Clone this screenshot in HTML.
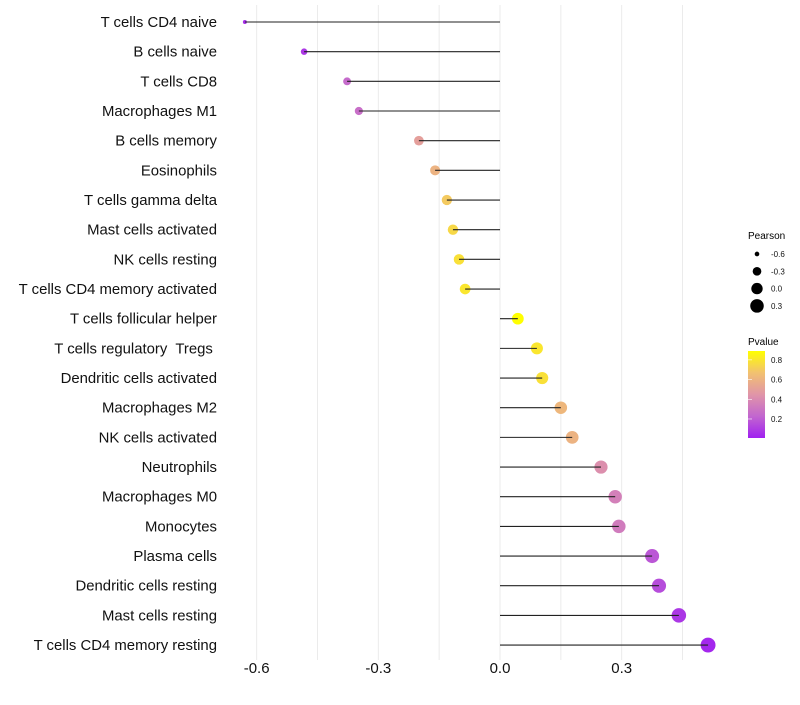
<!DOCTYPE html>
<html><head><meta charset="utf-8"><style>
body{margin:0;background:#fff;font-family:"Liberation Sans",sans-serif;}
svg text{font-family:"Liberation Sans",sans-serif;white-space:pre;}
</style></head><body>
<svg id="chart" width="800" height="700" xmlns="http://www.w3.org/2000/svg">
<defs><linearGradient id="pg" x1="0" y1="1" x2="0" y2="0">
<stop offset="0" stop-color="#a020f0"/><stop offset="0.25" stop-color="#c266cf"/><stop offset="0.5" stop-color="#e095a8"/><stop offset="0.75" stop-color="#f2c170"/><stop offset="1" stop-color="#ffff00"/>
</linearGradient></defs>
<g id="grid"></g>
<g id="points"></g>
<g id="marks"></g>
<g id="legend">
<text x="748" y="239" font-size="10">Pearson</text>
<text x="748" y="345" font-size="10">Pvalue</text>
<rect x="748" y="351" width="17" height="87" fill="url(#pg)"/>
</g>
</svg>
<script>
const categories=["T cells CD4 naive","B cells naive","T cells CD8","Macrophages M1","B cells memory","Eosinophils","T cells gamma delta","Mast cells activated","NK cells resting","T cells CD4 memory activated","T cells follicular helper","T cells regulatory  Tregs ","Dendritic cells activated","Macrophages M2","NK cells activated","Neutrophils","Macrophages M0","Monocytes","Plasma cells","Dendritic cells resting","Mast cells resting","T cells CD4 memory resting"];
const pearson=[-0.629,-0.483,-0.377,-0.348,-0.2,-0.16,-0.131,-0.116,-0.101,-0.086,0.044,0.091,0.104,0.15,0.178,0.249,0.284,0.293,0.375,0.392,0.441,0.513];
const pvalue=[0.05,0.08,0.25,0.27,0.5,0.6,0.7,0.75,0.78,0.8,0.89,0.8,0.78,0.62,0.6,0.42,0.35,0.33,0.18,0.15,0.08,0.03];
const xTicks=[-0.6,-0.3,0.0,0.3];
const xTickLabels=["-0.6","-0.3","0.0","0.3"];
const gridVals=[-0.6,-0.45,-0.3,-0.15,0,0.15,0.3,0.45];
const sizeLegendVals=[-0.6,-0.3,0.0,0.3];
const sizeLegendLabels=["-0.6","-0.3","0.0","0.3"];
const pTicks=[0.2,0.4,0.6,0.8];
const pTickLabels=["0.2","0.4","0.6","0.8"];
const NS="http://www.w3.org/2000/svg";
const x=v=>500+v*405.6;
const y=i=>22+i*29.67;
const r=v=>Math.sqrt(4+45*Math.max(0,v+0.63));
const py=p=>438-(p-0.007)*(87/0.883);
const stops=[[0,[160,32,240]],[0.25,[194,102,207]],[0.5,[224,149,168]],[0.75,[242,193,112]],[1,[255,255,0]]];
function col(p){let t=Math.max(0,Math.min(1,(p-0.007)/0.883));for(let k=1;k<stops.length;k++){if(t<=stops[k][0]){const a=stops[k-1],b=stops[k];const f=(t-a[0])/(b[0]-a[0]);const c=a[1].map((v,j)=>Math.round(v+(b[1][j]-v)*f));return `rgb(${c})`;}}return "rgb(255,255,0)";}
function mk(tag,attrs,parent){const e=document.createElementNS(NS,tag);for(const k in attrs)e.setAttribute(k,attrs[k]);parent.appendChild(e);return e;}
const grid=document.getElementById('grid'),points=document.getElementById('points'),marks=document.getElementById('marks'),legend=document.getElementById('legend'),svg=document.getElementById('chart');
gridVals.forEach(v=>{const l=mk('line',{x1:x(v),x2:x(v),y1:5,y2:660,stroke:'#ebebeb','stroke-width':1},grid);

});
xTicks.forEach((v,i)=>{const t=mk('text',{x:x(v),y:673,'font-size':15,'text-anchor':'middle',fill:'#111'},svg);t.textContent=xTickLabels[i];

});
categories.forEach((c,i)=>{const t=mk('text',{x:217,y:y(i)+5,'font-size':14.9,'text-anchor':'end',fill:'#111'},svg);t.textContent=c;


const d=mk('circle',{cx:x(pearson[i]),cy:y(i),r:r(pearson[i]),fill:col(pvalue[i])},points);


const l=mk('line',{x1:x(0),x2:x(pearson[i]),y1:y(i),y2:y(i),stroke:'#222','stroke-width':1.1},marks);

});
sizeLegendVals.forEach((v,i)=>{const cy=254+i*17.3;const c=mk('circle',{cx:757,cy:cy,r:r(v),fill:'#000'},legend);


const t=mk('text',{x:771,y:cy+3,'font-size':8,fill:'#111'},legend);t.textContent=sizeLegendLabels[i];

});
pTicks.forEach((p,i)=>{const t=mk('text',{x:771,y:py(p)+3,'font-size':8,fill:'#111'},legend);t.textContent=pTickLabels[i];


const l=mk('line',{x1:748,x2:752,y1:py(p),y2:py(p),stroke:'#fff','stroke-width':0.6},legend);

});
</script>
</body></html>
